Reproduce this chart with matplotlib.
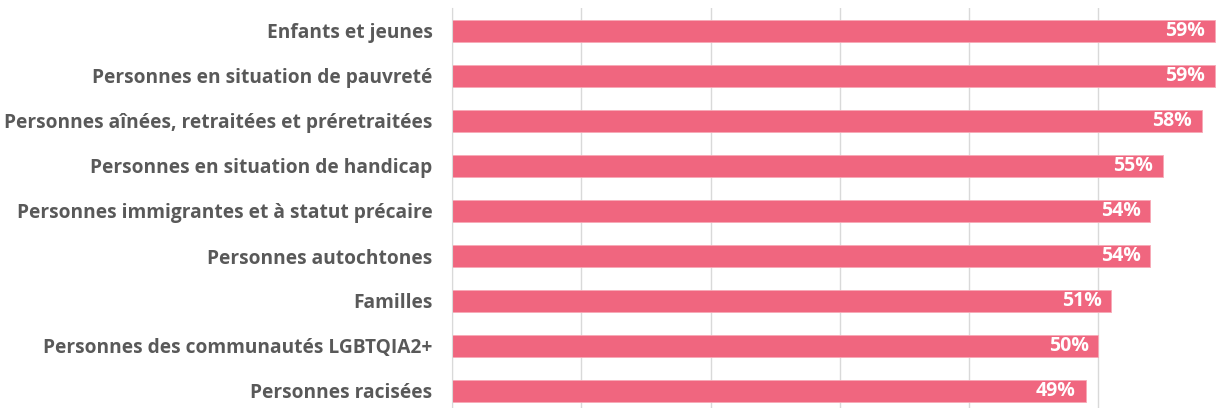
import matplotlib

matplotlib.use("Agg")
import matplotlib.pyplot as plt


CATEGORIES = [
    "Enfants et jeunes",
    "Personnes en situation de pauvreté",
    "Personnes aînées, retraitées et préretraitées",
    "Personnes en situation de handicap",
    "Personnes immigrantes et à statut précaire",
    "Personnes autochtones",
    "Familles",
    "Personnes des communautés LGBTQIA2+",
    "Personnes racisées",
]
VALUES = [0.59, 0.59, 0.58, 0.55, 0.54, 0.54, 0.51, 0.50, 0.49]
GRID_TICKS = [0.0, 0.1, 0.2, 0.3, 0.4, 0.5]

BAR_COLOR = "#F0667F"
LABEL_COLOR = "#595959"
GRID_COLOR = "#D9D9D9"
FONT = ["Open Sans", "DejaVu Sans"]


def main():
    fig = plt.figure(figsize=(12.2, 4.08), dpi=100)
    ax = fig.add_axes([452 / 1220, -5.5 / 408, 768 / 1220, 405 / 408])

    y = list(range(len(CATEGORIES)))
    ax.barh(y, VALUES, height=0.5, color=BAR_COLOR, edgecolor="#F7A9B6", linewidth=0.6, zorder=2)

    ax.set_xlim(0, 0.594)
    ax.set_ylim(len(CATEGORIES) - 0.5, -0.5)
    ax.set_xticks(GRID_TICKS)
    ax.xaxis.grid(True, color=GRID_COLOR, linewidth=1.0, zorder=0)
    ax.tick_params(axis="x", length=0, labelbottom=False)
    ax.tick_params(axis="y", length=0, pad=14)
    ax.set_yticks(y)
    ax.set_yticklabels(CATEGORIES, fontsize=13.8, fontweight="bold", color=LABEL_COLOR, family=FONT)
    for side in ("top", "right", "bottom"):
        ax.spines[side].set_visible(False)
    ax.spines["left"].set_color(GRID_COLOR)

    for yi, v in zip(y, VALUES):
        ax.annotate(
            f"{round(v * 100)}%",
            xy=(v, yi),
            xytext=(-7, 0),
            textcoords="offset points",
            ha="right",
            va="center",
            color="white",
            fontsize=14,
            fontweight="bold",
            family=FONT,
            zorder=3,
        )

    fig.savefig("out.png", dpi=100)
    plt.close(fig)


if __name__ == "__main__":
    main()
